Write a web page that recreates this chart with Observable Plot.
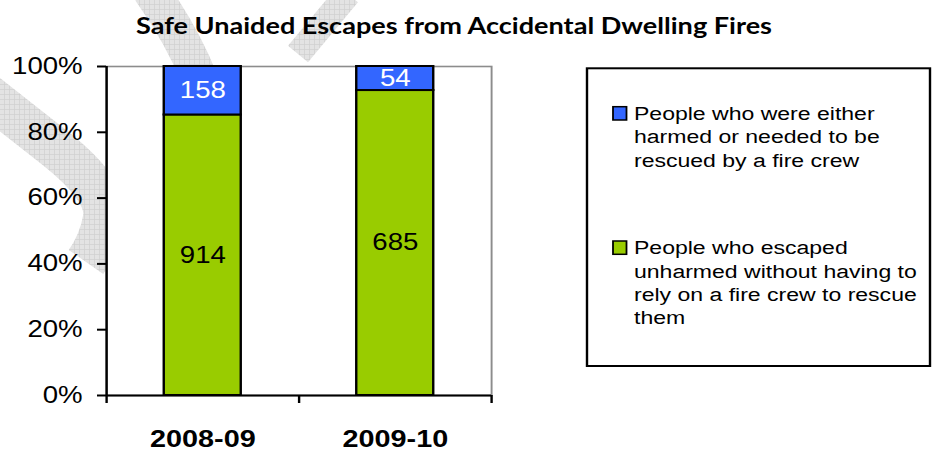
<!DOCTYPE html>
<html><head><meta charset="utf-8">
<script src="https://cdn.jsdelivr.net/npm/d3@7"></script>
<script src="https://cdn.jsdelivr.net/npm/@observablehq/plot@0.6"></script>
<style>
html,body{margin:0;padding:0;background:#fff;width:932px;height:454px;overflow:hidden;}
#wm{position:absolute;left:0;top:0;}
#stage{position:absolute;left:0;top:0;width:776.67px;height:454px;transform:scaleX(1.2);transform-origin:0 0;}
#stage > svg{position:absolute;left:0;top:0;}
</style>
</head><body>
<svg id="wm" width="932" height="454">
  <defs>
    <pattern id="chk" width="5" height="5" patternUnits="userSpaceOnUse">
      <rect width="5" height="5" fill="#e3e3e3"/>
      <path d="M4.6 0V5M0 4.6H5" stroke="#d0d0d0" stroke-width="0.8"/>
    </pattern>
  </defs>
  <g fill="none" stroke="url(#chk)">
    <path d="M -25,85 L 55,148 Q 108,190 104,218 Q 100,242 86,262" stroke-width="42"/>
    <path d="M 150,-10 Q 182,35 200,80" stroke-width="36"/>
    <path d="M 298,54 L 348,-6" stroke-width="26"/>
  </g>
</svg>
<div id="stage"></div>
<script>
// ---- data ----
const title = "Safe Unaided Escapes from Accidental Dwelling Fires";
const categories = ["2008-09", "2009-10"];
const escaped = [914, 685];   // green, bottom
const harmed = [158, 54];     // blue, top
const seriesKeys = ["escaped", "harmed"];
const seriesColors = ["#99CC00", "#3366FF"];
const yTicks = [0, 0.2, 0.4, 0.6, 0.8, 1];
const legendHarmedLines = ["People who were either", "harmed or needed to be", "rescued by a fire crew"];
const legendEscapedLines = ["People who escaped", "unharmed without having to", "rely on a fire crew to rescue", "them"];

// ---- layout (unstretched coordinates; stage is scaled 1.2x horizontally) ----
const S = 1.2;
const W = 932 / S;
const barWidth = 0.4;
const fontAxis = "'Liberation Sans', Arial, Helvetica, sans-serif";

const rows = categories.flatMap((c, i) => {
  const total = escaped[i] + harmed[i];
  return [
    {cat: c, i, series: "escaped", value: escaped[i], y1: 0, y2: escaped[i] / total},
    {cat: c, i, series: "harmed", value: harmed[i], y1: escaped[i] / total, y2: 1}
  ];
});

const plot = Plot.plot({
  width: W, height: 454,
  marginLeft: 106 / S, marginRight: W - 491 / S, marginTop: 66, marginBottom: 59,
  style: {background: "transparent", fontFamily: fontAxis, fontSize: "23px", color: "black", overflow: "visible"},
  x: {type: "linear", domain: [0, categories.length], axis: null},
  y: {domain: [0, 1], axis: null},
  color: {domain: seriesKeys, range: seriesColors},
  marks: [
    Plot.frame({fill: "white", stroke: "#8c8c8c", strokeWidth: 1.6}),
    Plot.rect(rows, {
      x1: d => d.i + 0.5 - barWidth / 2, x2: d => d.i + 0.5 + barWidth / 2,
      y1: "y1", y2: "y2", fill: "series", stroke: "black", strokeWidth: 2
    }),
    Plot.text(rows.filter(d => d.series === "harmed"), {
      x: d => d.i + 0.5, y: d => (d.y1 + d.y2) / 2, text: d => String(d.value),
      fill: "white", fontSize: 23
    }),
    Plot.text(rows.filter(d => d.series === "escaped"), {
      x: d => d.i + 0.5, y: d => (d.y1 + d.y2) / 2, text: d => String(d.value),
      fill: "black", fontSize: 23
    }),
    Plot.axisY({ticks: yTicks, tickFormat: d3.format(".0%"), tickSize: 7.5, tickPadding: 12.5,
      strokeWidth: 2, fontSize: 23, label: null}),
    Plot.axisX({ticks: d3.range(categories.length + 1), tickFormat: () => "", tickSize: 8,
      strokeWidth: 2, label: null}),
    Plot.ruleX([0], {stroke: "black", strokeWidth: 2}),
    Plot.ruleY([0], {stroke: "black", strokeWidth: 2}),
    Plot.text(categories, {x: (d, i) => i + 0.5, y: () => 0, text: d => d, dy: 44,
      fontWeight: "bold", fontSize: 24, fill: "black"})
  ]
});
document.getElementById("stage").appendChild(plot);

// ---- title + legend overlay (real text) ----
const ns = "http://www.w3.org/2000/svg";
const ov = document.createElementNS(ns, "svg");
ov.setAttribute("width", W); ov.setAttribute("height", 454);
ov.style.overflow = "visible";
document.getElementById("stage").appendChild(ov);

function el(name, attrs) {
  const e = document.createElementNS(ns, name);
  for (const k in attrs) e.setAttribute(k, attrs[k]);
  ov.appendChild(e);
  return e;
}

const titleFont = "Lato, Carlito, Calibri, 'Open Sans', sans-serif";
const tt = el("text", {
  x: 454 / S, y: 34, "text-anchor": "middle", "font-family": titleFont,
  "font-weight": "bold", "font-size": 23, textLength: 636 / S, lengthAdjust: "spacingAndGlyphs"
});
tt.textContent = title;

el("rect", {x: 587 / S, y: 68.3, width: (930 - 587) / S, height: 297.7, fill: "white", stroke: "black", "stroke-width": 2});
const items = [
  {color: seriesColors[1], lines: legendHarmedLines, y: 106.7},
  {color: seriesColors[0], lines: legendEscapedLines, y: 241}
];
items.forEach(it => {
  el("rect", {x: 613 / S, y: it.y, width: 13.5 / S, height: 13.3, fill: it.color, stroke: "black", "stroke-width": 1.5});
  it.lines.forEach((ln, j) => {
    const t = el("text", {x: 634 / S, y: it.y + 13.3 + j * 23.3, "font-family": fontAxis, "font-size": 19.2, fill: "black"});
    t.textContent = ln;
  });
});
</script>
</body></html>
